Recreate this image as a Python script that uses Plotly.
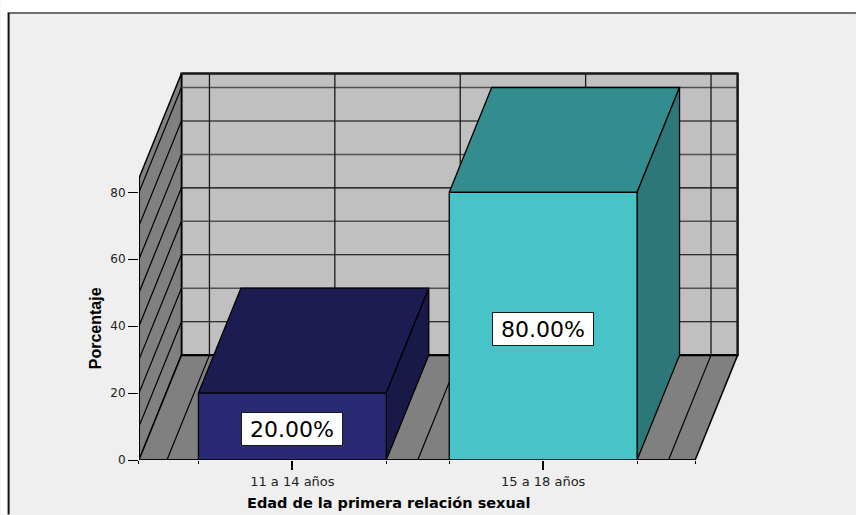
import plotly.graph_objects as go

categories = ["11 a 14 años", "15 a 18 años"]
values = [20, 80]
labels = ["20.00%", "80.00%"]
y_ticks = [0, 20, 40, 60, 80]
grid_major = [0, 20, 40, 60, 80]
grid_minor = [10, 30, 50, 70]
wall_top = 84.2
x_grid = [-0.5, 0, 0.5, 1, 1.5]
x_title = "Edad de la primera relación sexual"
y_title = "Porcentaje"

front_colors = ["#292974", "#48c3c8"]
top_colors = ["#1c1c52", "#338c8e"]
side_colors = ["#191947", "#2d7779"]

# geometry of the layout, in pixels and axis units
W, H = 856, 515
L, R, T, B = 138.5, 110.0, 70.0, 54.5
PX_PER_CAT = 251.0
PX_PER_VAL = 3.35
x_center0 = 292.0
x_lo = (L - x_center0) / PX_PER_CAT
x_hi = (W - R - x_center0) / PX_PER_CAT
y_hi = (H - B - T) / PX_PER_VAL
floor_lo, floor_hi = -0.6116, 1.606
DX = 42.5 / PX_PER_CAT
DY = 105.0 / PX_PER_VAL
HALF = 94.0 / PX_PER_CAT


def paper_x(px):
    return (px - L) / (W - L - R)


def paper_y(px):
    return (H - B - px) / (H - T - B)


fig = go.Figure()


def poly(xs, ys, fill=None, color="#000000", width=1.5):
    fig.add_trace(go.Scatter(
        x=xs, y=ys, mode="lines", cliponaxis=False, hoverinfo="skip", showlegend=False,
        fill="toself" if fill else None, fillcolor=fill,
        line=dict(color=color, width=width),
    ))


back_l, back_r = floor_lo + DX, floor_hi + DX
# back wall
poly([back_l, back_r, back_r, back_l, back_l],
     [DY, DY, wall_top + DY, wall_top + DY, DY], fill="#c0c0c0", width=2)
# left wall
poly([floor_lo, back_l, back_l, floor_lo, floor_lo],
     [0, DY, wall_top + DY, wall_top, 0], fill="#808080", width=1.5)
# floor
poly([floor_lo, floor_hi, back_r, back_l, floor_lo],
     [0, 0, DY, DY, 0], fill="#808080", width=1.5)

for v in grid_minor + grid_major[1:]:
    if v in grid_minor:
        poly([back_l, back_r], [v + DY, v + DY], color="#000000", width=1.1)
    else:
        poly([back_l, back_r], [v + DY, v + DY], color="#505050", width=1.5)
    poly([floor_lo, back_l], [v, v + DY], color="#000000", width=1.2)
for gx in x_grid:
    poly([gx + DX, gx + DX], [DY, wall_top + DY], color="#1a1a1a", width=1.3)
    poly([gx, gx + DX], [0, DY], color="#000000", width=1.2)

# heavy edges
poly([floor_lo, floor_lo], [0, wall_top], color="#000000", width=2)
poly([back_l, back_r], [DY, DY], color="#000000", width=2)
poly([back_l, back_r], [wall_top + DY, wall_top + DY], color="#1a1a1a", width=2)
poly([back_r, back_r], [DY, wall_top + DY], color="#1a1a1a", width=2)
poly([floor_lo, floor_hi], [0, 0], color="#000000", width=1.5)

# bars
for i, v in enumerate(values):
    a, b = i - HALF, i + HALF
    poly([a, b, b + DX, a + DX, a], [v, v, v + DY, v + DY, v], fill=top_colors[i], width=1.3)
    poly([b, b + DX, b + DX, b, b], [0, DY, v + DY, v, 0], fill=side_colors[i], width=1.3)
    poly([a, b, b, a, a], [0, 0, v, v, 0], fill=front_colors[i], width=1.3)

for i, v in enumerate(values):
    fig.add_annotation(
        x=i, y=v / 2, yshift=-2.5, text=labels[i], showarrow=False,
        width=100, height=32, align="center", valign="middle", borderpad=0,
        bgcolor="#ffffff", bordercolor="#1a1a1a", borderwidth=1,
        font=dict(family="DejaVu Sans", size=22, color="#000000"),
    )

fig.add_annotation(
    xref="paper", yref="paper", x=paper_x(389), y=paper_y(504),
    text="<b>" + x_title + "</b>", showarrow=False, xanchor="center", yanchor="middle",
    font=dict(family="DejaVu Sans", size=14.5, color="#000000"),
)
fig.add_annotation(
    xref="paper", yref="paper", x=paper_x(95), y=paper_y(329), textangle=-90,
    text="<b>" + y_title + "</b>", showarrow=False, xanchor="center", yanchor="middle",
    font=dict(family="Liberation Sans", size=16, color="#000000"),
)

minor_vals = [floor_lo, floor_hi]
for i in range(len(values)):
    minor_vals += [i - HALF, i + HALF]

fig.update_layout(
    width=W, height=H,
    margin=dict(l=L, r=R, t=T, b=B, pad=0, autoexpand=False),
    paper_bgcolor="#efefef", plot_bgcolor="rgba(0,0,0,0)",
    showlegend=False,
    shapes=[
        dict(type="rect", xref="paper", yref="paper", layer="below",
             x0=paper_x(0), x1=paper_x(W), y0=paper_y(0), y1=paper_y(13),
             fillcolor="#ffffff", line=dict(width=0)),
        dict(type="rect", xref="paper", yref="paper", layer="below",
             x0=paper_x(0), x1=paper_x(7), y0=paper_y(0), y1=paper_y(H),
             fillcolor="#ffffff", line=dict(width=0)),
        dict(type="line", xref="paper", yref="paper", layer="below",
             x0=paper_x(7), x1=paper_x(W), y0=paper_y(13), y1=paper_y(13),
             line=dict(color="#707070", width=2)),
        dict(type="line", xref="paper", yref="paper", layer="below",
             x0=paper_x(8), x1=paper_x(8), y0=paper_y(13), y1=paper_y(H),
             line=dict(color="#111111", width=2)),
    ],
    xaxis=dict(
        range=[x_lo, x_hi], showgrid=False, zeroline=False, showline=False,
        tickmode="array", tickvals=[0, 1], ticktext=categories,
        ticks="outside", ticklen=9, tickwidth=1.5, tickcolor="#000000",
        minor=dict(tickmode="array", tickvals=minor_vals, ticks="outside",
                   ticklen=3, tickwidth=1, tickcolor="#000000", showgrid=False),
        tickfont=dict(family="DejaVu Sans", size=13, color="#222222"),
        automargin=False,
    ),
    yaxis=dict(
        range=[0, y_hi], showgrid=False, zeroline=False, showline=False,
        tickmode="array", tickvals=y_ticks,
        ticks="outside", ticklen=10, tickwidth=1.2, tickcolor="#000000",
        tickfont=dict(family="DejaVu Sans", size=12, color="#222222"),
        automargin=False,
    ),
)

fig.write_html("out.html", config={"displayModeBar": False},
               post_script="document.body.style.margin='0';document.documentElement.style.overflow='hidden';")
